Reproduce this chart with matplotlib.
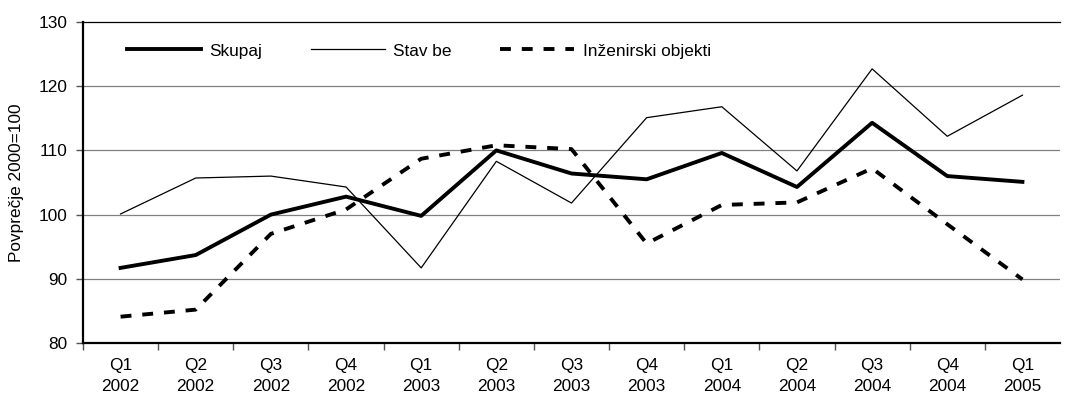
import numpy as np
import matplotlib.pyplot as plt

plt.rcParams['font.family'] = ['Liberation Sans', 'DejaVu Sans']

# Četrtletja in indeksi (povprečje 2000=100)
quarters = ['Q1\n2002', 'Q2\n2002', 'Q3\n2002', 'Q4\n2002', 'Q1\n2003', 'Q2\n2003', 'Q3\n2003',
            'Q4\n2003', 'Q1\n2004', 'Q2\n2004', 'Q3\n2004', 'Q4\n2004', 'Q1\n2005']
skupaj = [91.7, 93.7, 100.0, 102.8, 99.8, 110.0, 106.4, 105.5, 109.6, 104.3, 114.3, 106.0, 105.1]
stavbe = [100.1, 105.7, 106.0, 104.3, 91.7, 108.3, 101.8, 115.1, 116.8, 106.8, 122.7, 112.2, 118.6]
inzenirski = [84.1, 85.2, 97.0, 100.8, 108.7, 110.8, 110.2, 95.5, 101.5, 101.9, 107.2, 98.5, 89.9]

fs = 12.4

fig = plt.figure(figsize=(10.67, 4.0), dpi=100)
ax = fig.add_axes([83 / 1067, 1 - 343 / 400, (1060 - 83) / 1067, (343 - 22) / 400])

x = np.arange(len(quarters))
ax.plot(x, skupaj, color='black', lw=2.8, label='Skupaj')
ax.plot(x, stavbe, color='black', lw=0.9, label='Stav be')
ax.plot(x, inzenirski, color='black', lw=2.8, ls=(0, (2.8, 2.8)), label='Inženirski objekti')

ax.set_xlim(-0.5, len(quarters) - 0.5)
ax.set_ylim(80, 130)
ax.set_yticks([80, 90, 100, 110, 120, 130])
ax.set_xticks(x)
ax.set_xticklabels(quarters, fontsize=fs, linespacing=1.5)
ax.set_xticks(np.arange(len(quarters)) - 0.5, minor=True)
ax.tick_params(axis='x', which='major', length=0, pad=11)
ax.tick_params(axis='x', which='minor', length=5, width=1, color='#555555', direction='out')
ax.tick_params(axis='y', labelsize=fs, length=5, width=1, color='#555555', direction='out', pad=6)

for yv in [90, 100, 110, 120]:
    ax.axhline(yv, color='#808080', lw=0.9, zorder=0)

ax.spines['left'].set_linewidth(1.6)
ax.spines['bottom'].set_linewidth(1.6)
ax.spines['top'].set_linewidth(0.9)
ax.spines['right'].set_visible(False)

ax.set_ylabel('Povprečje 2000=100', fontsize=fs)
ax.yaxis.set_label_coords((24 - 83) / 977, 0.5)

ax.legend(loc='center left', bbox_to_anchor=(127 / 1067, 1 - 51 / 400), bbox_transform=fig.transFigure,
          ncol=3, frameon=False, fontsize=fs, borderpad=0, borderaxespad=0,
          handlelength=4.3, columnspacing=2.8, handletextpad=0.5)

fig.savefig('out.png', dpi=100)
